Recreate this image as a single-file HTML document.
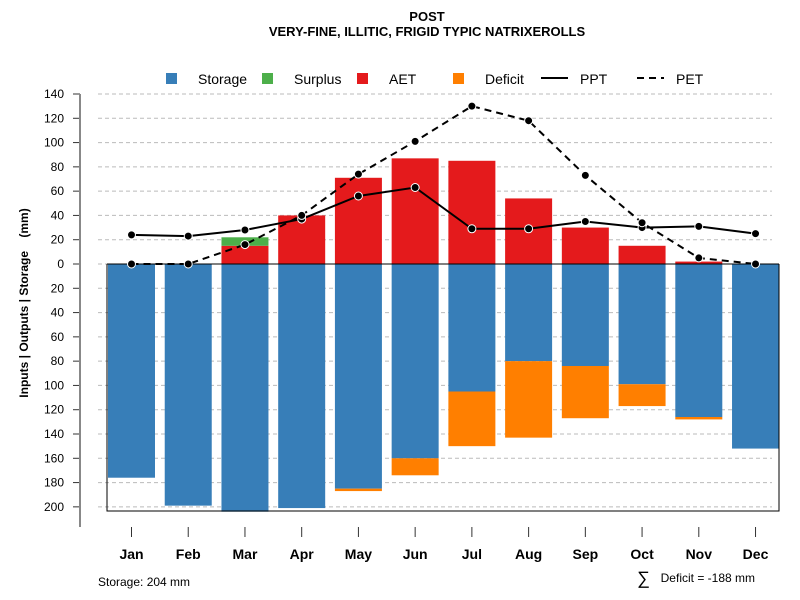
<!DOCTYPE html>
<html><head><meta charset="utf-8"><style>
body{margin:0;background:#fff}
svg{display:block;font-family:"Liberation Sans",sans-serif}
</style></head><body>
<svg id="c" width="800" height="600"></svg>
<script>
const months=["Jan","Feb","Mar","Apr","May","Jun","Jul","Aug","Sep","Oct","Nov","Dec"];
const storage=[176,199,204,201,185,160,105,80,84,99,126,152];
const deficit=[0,0,0,0,2,14,45,63,43,18,2,0];
const aet=[0,0,15,40,71,87,85,54,30,15,2,0];
const surplus=[0,0,7,0,0,0,0,0,0,0,0,0];
const ppt=[24,23,28,37,56,63,29,29,35,30,31,25];
const pet=[0,0,16,40,74,101,130,118,73,34,5,0];
const yTicks=[140,120,100,80,60,40,20,0,20,40,60,80,100,120,140,160,180,200];
const yVals=[140,120,100,80,60,40,20,0,-20,-40,-60,-80,-100,-120,-140,-160,-180,-200];

const NS="http://www.w3.org/2000/svg";
const svg=document.getElementById('c');
function el(t,a,txt){const e=document.createElementNS(NS,t);for(const k in a)e.setAttribute(k,a[k]);if(txt!==undefined)e.textContent=txt;svg.appendChild(e);return e;}
const y=v=>264-v*1.2143;
const xc=i=>131.5+i*56.73;
const bw=47;

yVals.forEach((v,i)=>{
  const g=el('line',{x1:98,x2:772,y1:y(v),y2:y(v),stroke:'#bbb','stroke-dasharray':'4,3','stroke-width':1});
  
  
  const tk=el('line',{x1:73,x2:80,y1:y(v),y2:y(v),stroke:'#333'});
  
  
  const t=el('text',{x:64,y:y(v)+4,'text-anchor':'end','font-size':12,fill:'#000'},yTicks[i]);
  
  
});
const ax=el('line',{x1:80,x2:80,y1:94,y2:527,stroke:'#888','stroke-width':2});



months.forEach((m,i)=>{
  const x=xc(i)-bw/2;
  let r=el('rect',{x:x,y:y(0),width:bw,height:storage[i]*1.2143,fill:'#377eb8'});
  
  
  if(deficit[i]>0){
    r=el('rect',{x:x,y:y(-storage[i]),width:bw,height:deficit[i]*1.2143,fill:'#ff7f00'});
    
    
  }
  if(aet[i]>0){
    r=el('rect',{x:x,y:y(aet[i]),width:bw,height:aet[i]*1.2143,fill:'#e41a1c'});
    
    
  }
  if(surplus[i]>0){
    r=el('rect',{x:x,y:y(aet[i]+surplus[i]),width:bw,height:surplus[i]*1.2143,fill:'#4daf4a'});
    
    
  }
  const tk=el('line',{x1:xc(i),x2:xc(i),y1:527,y2:537,stroke:'#333'});
  
  
  const t=el('text',{x:xc(i),y:559,'text-anchor':'middle','font-size':14,'font-weight':'bold'},m);
  
  
});
const bx=el('path',{d:'M107 264 V511 H779 V264',fill:'none',stroke:'#000','stroke-width':1});


const zl=el('line',{x1:107,x2:779,y1:264,y2:264,stroke:'#000'});



function series(arr,dash,name){
  const p=el('polyline',{points:arr.map((v,i)=>xc(i)+','+y(v)).join(' '),fill:'none',stroke:'#000','stroke-width':2,'stroke-dasharray':dash});
  
  
  arr.forEach((v,i)=>{
    const c=el('circle',{cx:xc(i),cy:y(v),r:4,fill:'#000',stroke:'#fff','stroke-width':1});
    
    
  });
}
series(ppt,'none','ppt');
series(pet,'7,5','pet');

let t=el('text',{x:427,y:21,'text-anchor':'middle','font-size':13,'font-weight':'bold'},'POST');


t=el('text',{x:427,y:36,'text-anchor':'middle','font-size':13,'font-weight':'bold'},'VERY-FINE, ILLITIC, FRIGID TYPIC NATRIXEROLLS');


t=el('text',{x:0,y:0,'text-anchor':'middle','font-size':12,'font-weight':'bold',style:'white-space:pre',transform:'translate(28,303) rotate(-90)'},'Inputs | Outputs | Storage    (mm)');


t=el('text',{x:98,y:586,'font-size':12},'Storage: 204 mm');


t=el('text',{x:637,y:584,'font-size':18},'∑');


t=el('text',{x:755,y:582,'text-anchor':'end','font-size':12},'Deficit = -188 mm');



const leg=[["Storage","#377eb8",171,198],["Surplus","#4daf4a",267,294],["AET","#e41a1c",362,389],["Deficit","#ff7f00",458,485]];
leg.forEach(l=>{
  const r=el('rect',{x:l[2]-5,y:73,width:11,height:11,fill:l[1]});
  
  
  const tx=el('text',{x:l[3],y:84,'font-size':14},l[0]);
  
  
});
let ll=el('line',{x1:541,x2:568,y1:78,y2:78,stroke:'#000','stroke-width':2});


t=el('text',{x:580,y:84,'font-size':14},'PPT');


ll=el('line',{x1:637,x2:664,y1:78,y2:78,stroke:'#000','stroke-width':2,'stroke-dasharray':'7,5'});


t=el('text',{x:676,y:84,'font-size':14},'PET');


</script>
</body></html>
